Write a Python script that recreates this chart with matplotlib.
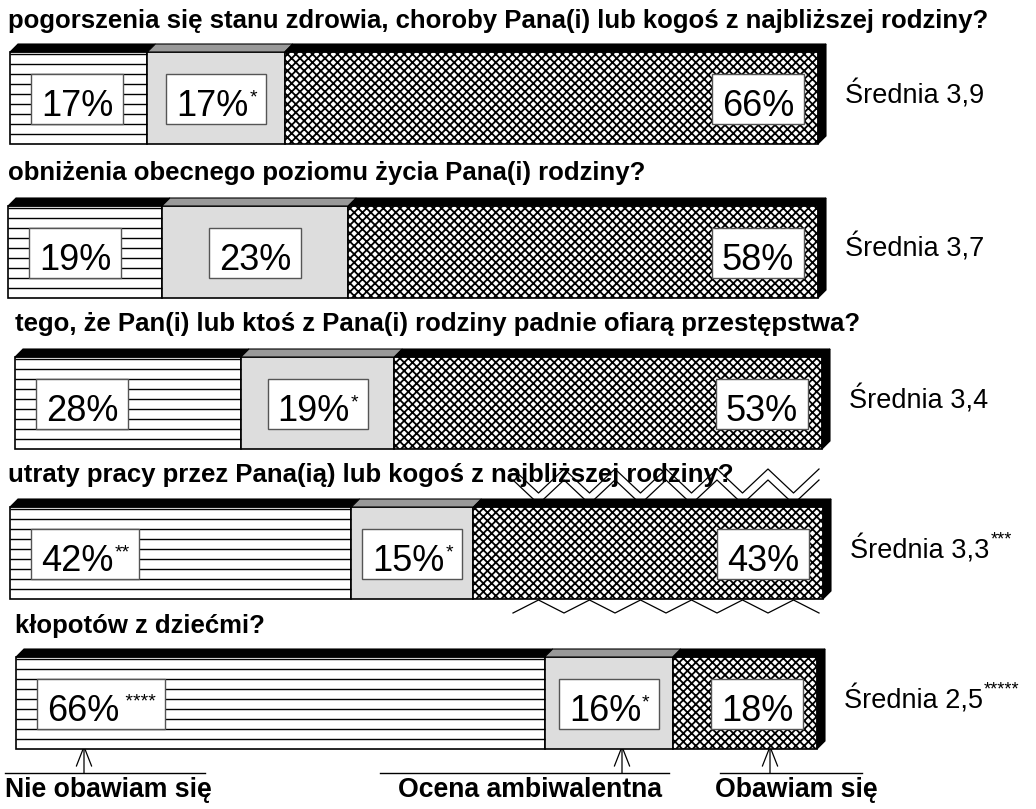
import matplotlib
matplotlib.use("Agg")
import matplotlib.pyplot as plt
from matplotlib.patches import Rectangle, Polygon

W, H = 1036, 809
plt.rcParams["font.family"] = ["Liberation Sans", "DejaVu Sans"]
plt.rcParams["hatch.linewidth"] = 1.3

questions = [
    "pogorszenia się stanu zdrowia, choroby Pana(i) lub kogoś z najbliższej rodziny?",
    "obniżenia obecnego poziomu życia Pana(i) rodziny?",
    "tego, że Pan(i) lub ktoś z Pana(i) rodziny padnie ofiarą przestępstwa?",
    "utraty pracy przez Pana(ią) lub kogoś z najbliższej rodziny?",
    "kłopotów z dziećmi?",
]
nie_obawiam = [17, 19, 28, 42, 66]
ambiwalentna = [17, 23, 19, 15, 16]
obawiam = [66, 58, 53, 43, 18]
stars_nie = ["", "", "", "**", " ****"]
stars_amb = ["*", "", "*", "*", "*"]
stars_oba = ["", "", "", "", ""]
srednia = ["3,9", "3,7", "3,4", "3,3", "2,5"]
stars_sr = ["", "", "", "***", "*****"]
categories = ["Nie obawiam się", "Ocena ambiwalentna", "Obawiam się"]

# layout (pixels)
bar_left = [10, 8, 15, 10, 16]
bar_right = [818, 818, 822, 823, 817]
bar_top = [52, 206, 357, 507, 657]
bar_h = 92
title_x = [8, 8, 15, 8, 15]
title_base = [28, 180, 331, 482, 633]
DX, DY = 8, 8

fig = plt.figure(figsize=(W / 100, H / 100), dpi=100)
ax = fig.add_axes([0, 0, 1, 1])
ax.set_xlim(0, W)
ax.set_ylim(H, 0)
ax.axis("off")
# overlay for label boxes, above the bars
top = fig.add_axes([0, 0, 1, 1], zorder=10)
top.set_xlim(0, W)
top.set_ylim(H, 0)
top.axis("off")
top.patch.set_alpha(0)
renderer = fig.canvas.get_renderer()


def text_width(t):
    return t.get_window_extent(renderer=renderer).width


def label_box(x, cy, main, star, align, fs=26, sfs=14):
    # white box with percentage and superscript stars, x is left/center/right
    t = top.text(0, 0, main, fontsize=fs, va="baseline", ha="left", zorder=6)
    s = top.text(0, 0, star, fontsize=sfs, va="top", ha="left", zorder=6)
    w1 = text_width(t)
    w2 = text_width(s) if star else 0
    bw = w1 + w2 + 20
    if align == "left":
        x0 = x
    elif align == "center":
        x0 = x - bw / 2
    else:
        x0 = x - bw
    top.add_patch(Rectangle((x0, cy - 25), bw, 50, fc="white", ec="#555555",
                            lw=1.0, zorder=5))
    base = cy + 17
    t.set_position((x0 + 10, base))
    s.set_position((x0 + 10 + w1 + 1, base - 27))


# zigzag artifacts around the fourth bar
xs = [513 + 25.5 * k for k in range(13)]
for off in (0, 11):
    ys = [469 + off if k % 2 == 0 else 493 + off for k in range(13)]
    ax.plot(xs, ys, color="black", lw=0.9, zorder=1)
ys = [613 if k % 2 == 0 else 600 for k in range(13)]
ax.plot(xs, ys, color="black", lw=0.9, zorder=1)

for i in range(5):
    l, r, t = bar_left[i], bar_right[i], bar_top[i]
    bx = fig.add_axes([l / W, 1 - (t + bar_h) / H, (r - l) / W, bar_h / H])
    bx.set_xlim(0, 100)
    bx.set_ylim(0, 1)
    bx.axis("off")
    vals = [nie_obawiam[i], ambiwalentna[i], obawiam[i]]
    lefts = [0, vals[0], vals[0] + vals[1]]
    bx.barh(0.5, vals[0], left=lefts[0], height=1, color="white",
            edgecolor="black", lw=1.2, clip_on=False)
    # horizontal line pattern, ~10 px apart
    ylines = [k * 10 / bar_h for k in range(1, 10)]
    bx.hlines(ylines, 0, vals[0], color="black", lw=1.0)
    bx.barh(0.5, vals[1], left=lefts[1], height=1, color="#dddddd",
            edgecolor="black", lw=1.2, clip_on=False)
    bx.barh(0.5, vals[2], left=lefts[2], height=1, color="white",
            edgecolor="black", hatch="xxxx", lw=1.2, clip_on=False)
    dxd = DX / (r - l) * 100
    dyd = DY / bar_h
    tops = ["black", "#999999", "black"]
    for a, v, c in zip(lefts, vals, tops):
        b = a + v
        bx.add_patch(Polygon([(a, 1), (b, 1), (b + dxd, 1 + dyd), (a + dxd, 1 + dyd)],
                             closed=True, fc=c, ec="black", lw=0.8, clip_on=False))
    total = sum(vals)
    bx.add_patch(Polygon([(total, 0), (total + dxd, dyd), (total + dxd, 1 + dyd), (total, 1)],
                         closed=True, fc="black", ec="black", lw=0.8, clip_on=False))

    # segment edges in pixel coords of the overlay axes
    to_px = lambda xv: top.transData.inverted().transform(bx.transData.transform((xv, 0.5)))[0]
    e0, e1, e2, e3 = [to_px(v) for v in (0, lefts[1], lefts[2], total)]
    cy = t + bar_h / 2 + 1
    label_box(e0 + 21, cy, f"{vals[0]}%", stars_nie[i], "left")
    label_box((e1 + e2) / 2, cy, f"{vals[1]}%", stars_amb[i], "center")
    label_box(e3 - 14, cy, f"{vals[2]}%", stars_oba[i], "right")

    ax.text(title_x[i], title_base[i], questions[i], fontsize=18.5,
            fontweight="bold", va="baseline", ha="left")
    st = ax.text(r + 27, t + bar_h / 2 + 5, f"Średnia {srednia[i]}", fontsize=19.5,
                 va="baseline", ha="left")
    if stars_sr[i]:
        ax.text(r + 27 + text_width(st) + 1, t + bar_h / 2 + 5 - 27, stars_sr[i],
                fontsize=13, va="top", ha="left")

# legend under the last bar
leg_lines = [(5, 205), (380, 669), (720, 862)]
arrow_x = [84, 622, 770]
label_x = [5, 398, 715]
bottom = bar_top[4] + bar_h
for (a, b), xa, xl, name in zip(leg_lines, arrow_x, label_x, categories):
    ax.plot([a, b], [773, 773], color="black", lw=1.0)
    ax.annotate("", xy=(xa, bottom - 4), xytext=(xa, 773),
                arrowprops=dict(arrowstyle="->,head_length=1.4,head_width=0.55",
                                color="black", lw=0.9, shrinkA=0, shrinkB=0))
    ax.text(xl, 797, name, fontsize=19.2, fontweight="bold", va="baseline", ha="left")

fig.savefig("out.png", dpi=100)
